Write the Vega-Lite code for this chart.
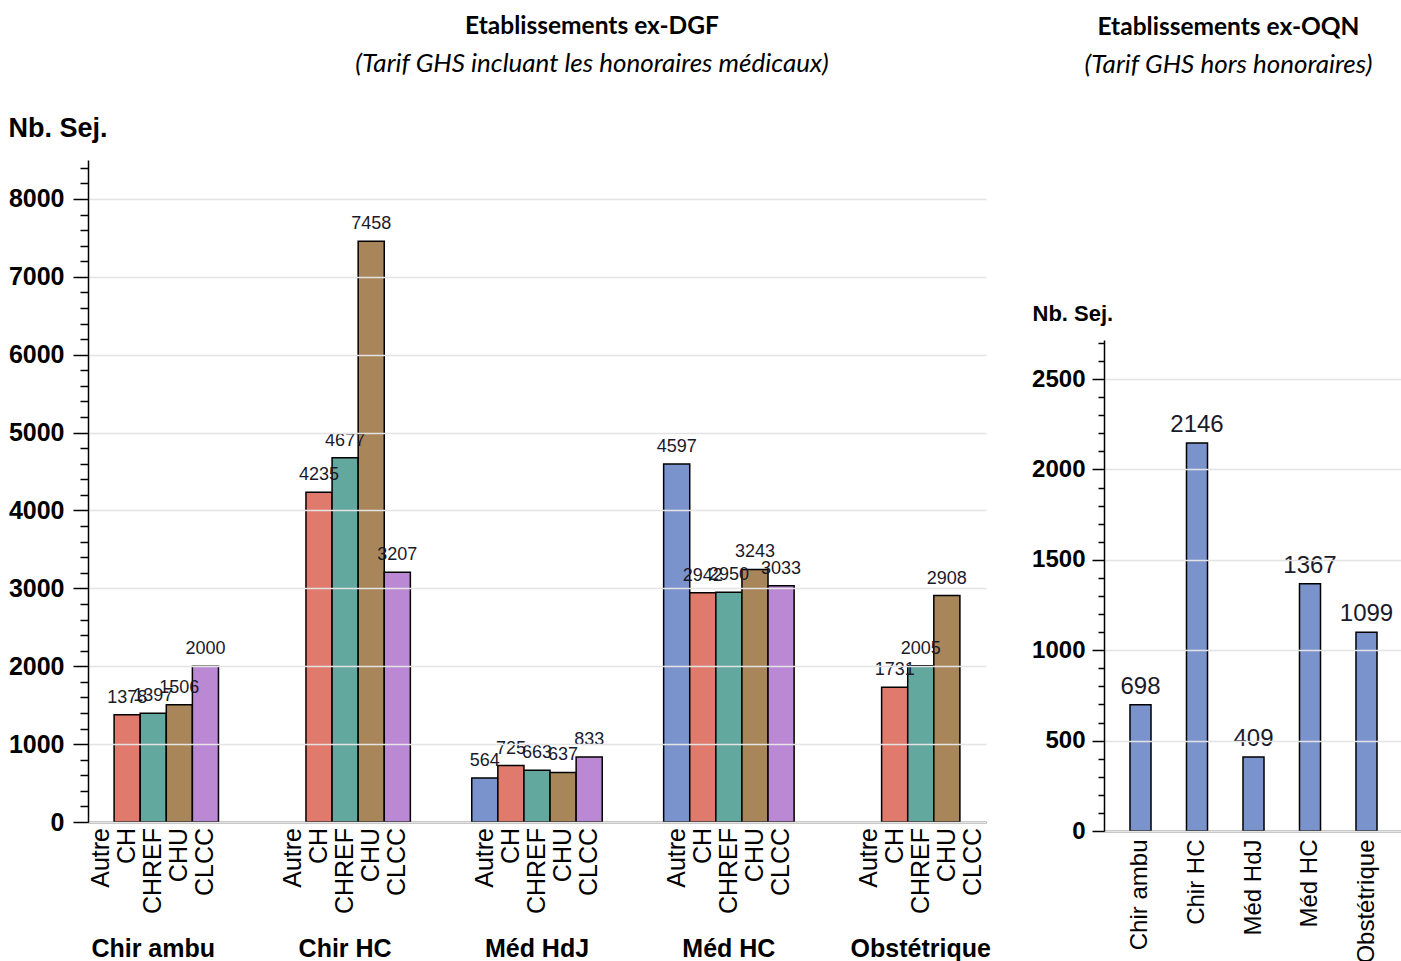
{
  "$schema": "https://vega.github.io/schema/vega-lite/v6.json",
  "background": "white",
  "padding": {"left": 8, "top": 13, "right": 0, "bottom": 0},
  "config": {"view": {"stroke": null}, "font": "Liberation Sans"},
  "datasets": {
    "dgf": [
      {"categorie": "Chir ambu", "type": "Autre", "n": null},
      {"categorie": "Chir ambu", "type": "CH", "n": 1378},
      {"categorie": "Chir ambu", "type": "CHREF", "n": 1397},
      {"categorie": "Chir ambu", "type": "CHU", "n": 1506},
      {"categorie": "Chir ambu", "type": "CLCC", "n": 2000},
      {"categorie": "Chir HC", "type": "Autre", "n": null},
      {"categorie": "Chir HC", "type": "CH", "n": 4235},
      {"categorie": "Chir HC", "type": "CHREF", "n": 4677},
      {"categorie": "Chir HC", "type": "CHU", "n": 7458},
      {"categorie": "Chir HC", "type": "CLCC", "n": 3207},
      {"categorie": "Méd HdJ", "type": "Autre", "n": 564},
      {"categorie": "Méd HdJ", "type": "CH", "n": 725},
      {"categorie": "Méd HdJ", "type": "CHREF", "n": 663},
      {"categorie": "Méd HdJ", "type": "CHU", "n": 637},
      {"categorie": "Méd HdJ", "type": "CLCC", "n": 833},
      {"categorie": "Méd HC", "type": "Autre", "n": 4597},
      {"categorie": "Méd HC", "type": "CH", "n": 2942},
      {"categorie": "Méd HC", "type": "CHREF", "n": 2950},
      {"categorie": "Méd HC", "type": "CHU", "n": 3243},
      {"categorie": "Méd HC", "type": "CLCC", "n": 3033},
      {"categorie": "Obstétrique", "type": "Autre", "n": null},
      {"categorie": "Obstétrique", "type": "CH", "n": 1731},
      {"categorie": "Obstétrique", "type": "CHREF", "n": 2005},
      {"categorie": "Obstétrique", "type": "CHU", "n": 2908},
      {"categorie": "Obstétrique", "type": "CLCC", "n": null}
    ],
    "oqn": [
      {"categorie": "Chir ambu", "n": 698},
      {"categorie": "Chir HC", "n": 2146},
      {"categorie": "Méd HdJ", "n": 409},
      {"categorie": "Méd HC", "n": 1367},
      {"categorie": "Obstétrique", "n": 1099}
    ]
  },
  "bounds": "flush",
  "spacing": 116,
  "hconcat": [
    {
      "width": 900,
      "height": 662,
      "data": {"name": "dgf"},
      "title": {
        "text": "Etablissements ex-DGF",
        "subtitle": "(Tarif GHS incluant les honoraires médicaux)",
        "font": "Lato", "fontSize": 24.5, "fontWeight": "bold", "color": "#000",
        "subtitleFont": "Lato", "subtitleFontSize": 26, "subtitleFontStyle": "italic", "subtitleColor": "#000",
        "subtitlePadding": 12, "anchor": "middle", "frame": "group", "dx": 54, "offset": 36
      },
      "encoding": {
        "x": {
          "field": "categorie", "type": "nominal",
          "sort": ["Chir ambu", "Chir HC", "Méd HdJ", "Méd HC", "Obstétrique"],
          "scale": {"paddingInner": 0.32, "paddingOuter": 0, "range": [0, 898]},
          "axis": {
            "title": null, "labelAngle": 0, "ticks": false, "domainColor": "#000", "domainWidth": 1.5,
            "labelFont": "Liberation Sans", "labelFontSize": 25, "labelFontWeight": "bold", "labelColor": "#000",
            "labelPadding": 114, "labelBaseline": "top"
          }
        },
        "xOffset": {
          "field": "type", "type": "nominal",
          "sort": ["Autre", "CH", "CHREF", "CHU", "CLCC"],
          "scale": {"domain": ["Autre", "CH", "CHREF", "CHU", "CLCC"], "paddingInner": 0, "paddingOuter": 0}
        }
      },
      "layer": [
        {
          "mark": {"type": "bar", "stroke": "#000", "strokeWidth": 1.5},
          "encoding": {
            "y": {
              "field": "n", "type": "quantitative",
              "scale": {"domain": [0, 8500], "nice": false},
              "axis": {
                "title": "Nb. Sej.", "titleAngle": 0, "titleAlign": "left", "titleBaseline": "alphabetic",
                "titleX": -80, "titleY": -24, "titleFont": "Liberation Sans", "titleFontSize": 27,
                "titleFontWeight": "bold", "titleColor": "#000", "format": "d",
                "values": [0, 1000, 2000, 3000, 4000, 5000, 6000, 7000, 8000],
                "labelFontSize": 25, "labelFontWeight": "bold", "labelColor": "#000", "labelPadding": 9,
                "tickSize": 15, "tickColor": "#000", "tickWidth": 1.5,
                "domainColor": "#000", "domainWidth": 1.5,
                "gridColor": "#e4e4e4", "gridWidth": 1.5, "zindex": 1
              }
            },
            "color": {
              "field": "type", "type": "nominal",
              "scale": {"domain": ["Autre", "CH", "CHREF", "CHU", "CLCC"], "range": ["#7b93cc", "#e07a6c", "#62a89f", "#a88659", "#bb88d4"]},
              "legend": null
            }
          }
        },
        {
          "mark": {"type": "text", "baseline": "alphabetic", "dy": -12, "fontSize": 18, "color": "#1a1a2a"},
          "encoding": {
            "y": {
              "field": "n", "type": "quantitative",
              "axis": {
                "orient": "left", "title": null, "labels": false, "grid": false, "domain": false,
                "values": [200, 400, 600, 800, 1200, 1400, 1600, 1800, 2200, 2400, 2600, 2800, 3200, 3400, 3600, 3800, 4200, 4400, 4600, 4800, 5200, 5400, 5600, 5800, 6200, 6400, 6600, 6800, 7200, 7400, 7600, 7800, 8200, 8400],
                "tickSize": 8, "tickColor": "#000", "tickWidth": 1.5
              }
            },
            "text": {"field": "n", "type": "quantitative", "format": "d"}
          }
        },
        {
          "mark": {"type": "text", "angle": 270, "align": "right", "baseline": "middle", "dx": -6, "fontSize": 25, "color": "#000"},
          "encoding": {
            "y": {"datum": 0, "type": "quantitative", "axis": null},
            "text": {"field": "type", "type": "nominal"}
          }
        }
      ],
      "resolve": {"axis": {"y": "independent"}}
    },
    {
      "width": 299,
      "height": 671,
      "data": {"name": "oqn"},
      "title": {
        "text": "Etablissements ex-OQN",
        "subtitle": "(Tarif GHS hors honoraires)",
        "font": "Lato", "fontSize": 24.5, "fontWeight": "bold", "color": "#000",
        "subtitleFont": "Lato", "subtitleFontSize": 26, "subtitleFontStyle": "italic", "subtitleColor": "#000",
        "subtitlePadding": 12, "anchor": "middle", "frame": "group", "dx": -25, "offset": 81
      },
      "encoding": {
        "x": {
          "field": "categorie", "type": "nominal",
          "sort": ["Chir ambu", "Chir HC", "Méd HdJ", "Méd HC", "Obstétrique"],
          "scale": {"paddingInner": 0.628, "paddingOuter": 0.46},
          "axis": {
            "title": null, "labelAngle": 270, "labelAlign": "right", "labelBaseline": "middle", "ticks": false,
            "labelPadding": 8, "labelFont": "Liberation Sans", "labelFontSize": 24, "labelColor": "#000",
            "domainColor": "#000", "domainWidth": 1.5
          }
        }
      },
      "layer": [
        {
          "mark": {"type": "bar", "color": "#7b93cc", "stroke": "#000", "strokeWidth": 1.5},
          "encoding": {
            "y": {
              "field": "n", "type": "quantitative",
              "scale": {"domain": [0, 2716], "nice": false, "range": [671, 180]},
              "axis": {
                "title": "Nb. Sej.", "titleAngle": 0, "titleAlign": "left", "titleBaseline": "alphabetic",
                "titleX": -72, "titleY": 160, "titleFont": "Liberation Sans", "titleFontSize": 22,
                "titleFontWeight": "bold", "titleColor": "#000", "format": "d",
                "values": [0, 500, 1000, 1500, 2000, 2500],
                "labelFontSize": 24, "labelFontWeight": "bold", "labelColor": "#000", "labelPadding": 7,
                "tickSize": 12, "tickColor": "#000", "tickWidth": 1.5,
                "domainColor": "#000", "domainWidth": 1.5,
                "gridColor": "#e4e4e4", "gridWidth": 1.5, "zindex": 1
              }
            }
          }
        },
        {
          "mark": {"type": "text", "baseline": "alphabetic", "dy": -11, "fontSize": 24, "color": "#1a1a2a"},
          "encoding": {
            "y": {
              "field": "n", "type": "quantitative",
              "axis": {
                "orient": "left", "title": null, "labels": false, "grid": false, "domain": false,
                "values": [100, 200, 300, 400, 600, 700, 800, 900, 1100, 1200, 1300, 1400, 1600, 1700, 1800, 1900, 2100, 2200, 2300, 2400, 2600, 2700],
                "tickSize": 6, "tickColor": "#000", "tickWidth": 1.5
              }
            },
            "text": {"field": "n", "type": "quantitative", "format": "d"}
          }
        }
      ],
      "resolve": {"axis": {"y": "independent"}}
    }
  ]
}
